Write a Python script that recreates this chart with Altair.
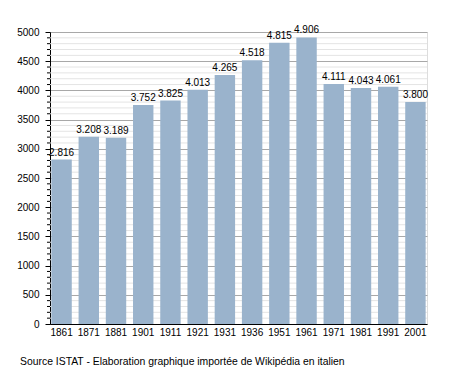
import altair as alt
import pandas as pd

years = ["1861", "1871", "1881", "1901", "1911", "1921", "1931", "1936",
         "1951", "1961", "1971", "1981", "1991", "2001"]
population = [2816, 3208, 3189, 3752, 3825, 4013, 4265, 4518,
              4815, 4906, 4111, 4043, 4061, 3800]
major_ticks = [0, 500, 1000, 1500, 2000, 2500, 3000, 3500, 4000, 4500, 5000]
minor_ticks = [v for v in range(0, 5001, 100) if v % 500 != 0]
footer = "Source ISTAT - Elaboration graphique importée de Wikipédia en italien"

W, H = 377, 292
FONT = "Liberation Sans"

df = pd.DataFrame({"year": years, "pop": population})
df["label"] = [f"{v:,}".replace(",", ".") for v in population]
minor_df = pd.DataFrame({"v": minor_ticks})

yscale = alt.Scale(domain=[0, 5000], nice=False)
xscale = alt.Scale(paddingInner=0.25, paddingOuter=0.05)
yaxis = alt.Axis(values=major_ticks, format="d", grid=True, gridColor="#a8a8a8",
                 tickColor="black", tickSize=5, domainColor="black",
                 labelFont=FONT, labelFontSize=10, labelColor="black",
                 labelPadding=6)

minor_grid = alt.Chart(minor_df).mark_rule(color="#e4e4e4", strokeWidth=1).encode(
    y=alt.Y("v:Q", scale=yscale, axis=yaxis, title=None),
    x=alt.value(0), x2=alt.value(W),
)
minor_tick = alt.Chart(minor_df).mark_rule(color="black", strokeWidth=1).encode(
    y=alt.Y("v:Q", scale=yscale, axis=yaxis, title=None),
    x=alt.value(-3), x2=alt.value(0),
)

bars = alt.Chart(df).mark_bar(color="#9ab3cc").encode(
    x=alt.X("year:N", sort=years, scale=xscale, title=None,
            axis=alt.Axis(labelAngle=0, ticks=False, labelPadding=3,
                          domainColor="black", labelFont=FONT, labelFontSize=10,
                          labelColor="black", grid=False)),
    y=alt.Y("pop:Q", scale=yscale, title=None, axis=yaxis),
)

text = alt.Chart(df).mark_text(baseline="bottom", dy=-2, font=FONT, fontSize=10,
                               color="black").encode(
    x=alt.X("year:N", sort=years, scale=xscale),
    y=alt.Y("pop:Q", scale=yscale, axis=yaxis, title=None),
    text="label:N",
)

foot = alt.Chart(pd.DataFrame({"t": [footer]})).mark_text(
    align="left", baseline="middle", font=FONT, fontSize=10.4, color="black"
).encode(x=alt.value(-30), y=alt.value(330), text="t:N")

chart = alt.layer(minor_grid, bars, minor_tick, text, foot).properties(
    width=W, height=H,
    autosize=alt.AutoSizeParams(type="none"),
    padding={"left": 42, "top": 24, "right": 10, "bottom": 49},
).configure_view(stroke=None).configure(background="white")

chart.save("out.html", embed_options={"renderer": "svg", "actions": False})
